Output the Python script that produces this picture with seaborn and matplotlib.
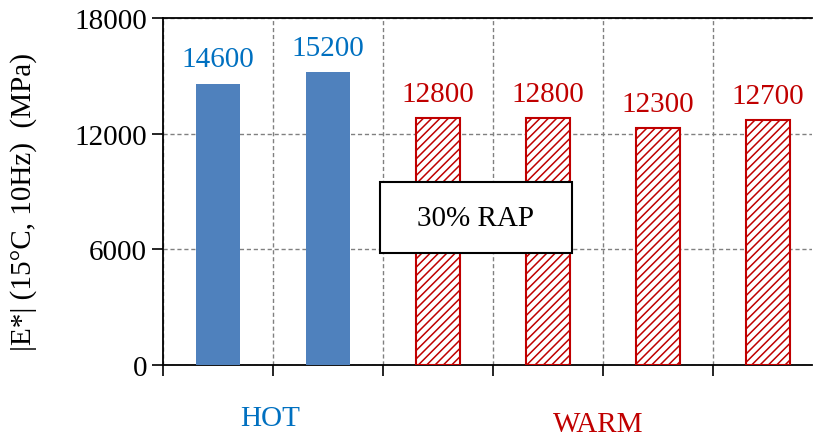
import pandas as pd
import matplotlib.pyplot as plt
import seaborn as sns
from matplotlib.patches import Rectangle

# Values
mixes = ["HOT-1", "HOT-2", "WARM-1", "WARM-2", "WARM-3", "WARM-4"]
groups = ["HOT", "HOT", "WARM", "WARM", "WARM", "WARM"]
modulus = [14600, 15200, 12800, 12800, 12300, 12700]
y_ticks = [0, 6000, 12000, 18000]

blue_bar = "#4F81BD"
blue_txt = "#0070C0"
red = "#C00000"

df = pd.DataFrame({"mix": mixes, "group": groups, "E": modulus})

sns.set_style("white")
plt.rcParams["font.family"] = ["Liberation Serif", "DejaVu Serif"]
plt.rcParams["text.color"] = "black"
plt.rcParams["hatch.linewidth"] = 1.1

fig = plt.figure(figsize=(8.14, 4.39), dpi=100)
ax = fig.add_axes([163 / 814, 1 - 366 / 439, 649 / 814, 347 / 439])

sns.barplot(data=df, x="mix", y="E", hue="group", dodge=False, width=0.4,
            palette={"HOT": blue_bar, "WARM": "white"}, saturation=1,
            legend=False, ax=ax, zorder=3)

# hatch the warm bars
for p in ax.containers[1]:
    p.set_hatch("////")
    p.set_edgecolor(red)
    p.set_linewidth(1.5)
for p in ax.containers[0]:
    p.set_edgecolor("none")

ax.bar_label(ax.containers[0], fmt="%d", padding=8, color=blue_txt, fontsize=21)
ax.bar_label(ax.containers[1], fmt="%d", padding=8, color=red, fontsize=21)

ax.set_ylim(0, 18000)
ax.set_yticks(y_ticks)
ax.set_xlim(-0.5, 5.4)
ax.set_xticks([i - 0.5 for i in range(len(mixes))])
ax.set_xticklabels([])
ax.set_xlabel("")
ax.tick_params(axis="both", direction="out", length=8, width=1.2, color="black",
               labelsize=21, labelcolor="black", bottom=True, left=True)
ax.grid(True, linestyle=(0, (3, 2)), color="#808080", linewidth=1, zorder=0)
ax.set_axisbelow(True)

for s in ["left", "bottom", "top"]:
    ax.spines[s].set_color("black")
    ax.spines[s].set_linewidth(1.3)
ax.spines["right"].set_visible(False)

ax.set_ylabel("|E*| (15°C, 10Hz)  (MPa)", fontsize=21, color="black")
ax.yaxis.set_label_coords(-0.194, 0.473)

# the 30% RAP box
ax.add_patch(Rectangle((0.334, 0.323), 0.296, 0.205, transform=ax.transAxes,
                       facecolor="white", edgecolor="black", linewidth=1.5,
                       zorder=5, clip_on=False))
ax.text(0.482, 0.425, "30% RAP", transform=ax.transAxes, ha="center",
        va="center", fontsize=21, zorder=6)

fig.text(270 / 814, 1 - 419 / 439, "HOT", color=blue_txt, fontsize=21,
         ha="center", va="center")
fig.text(598 / 814, 1 - 425 / 439, "WARM", color=red, fontsize=21,
         ha="center", va="center")

fig.savefig("out.png", dpi=100)
